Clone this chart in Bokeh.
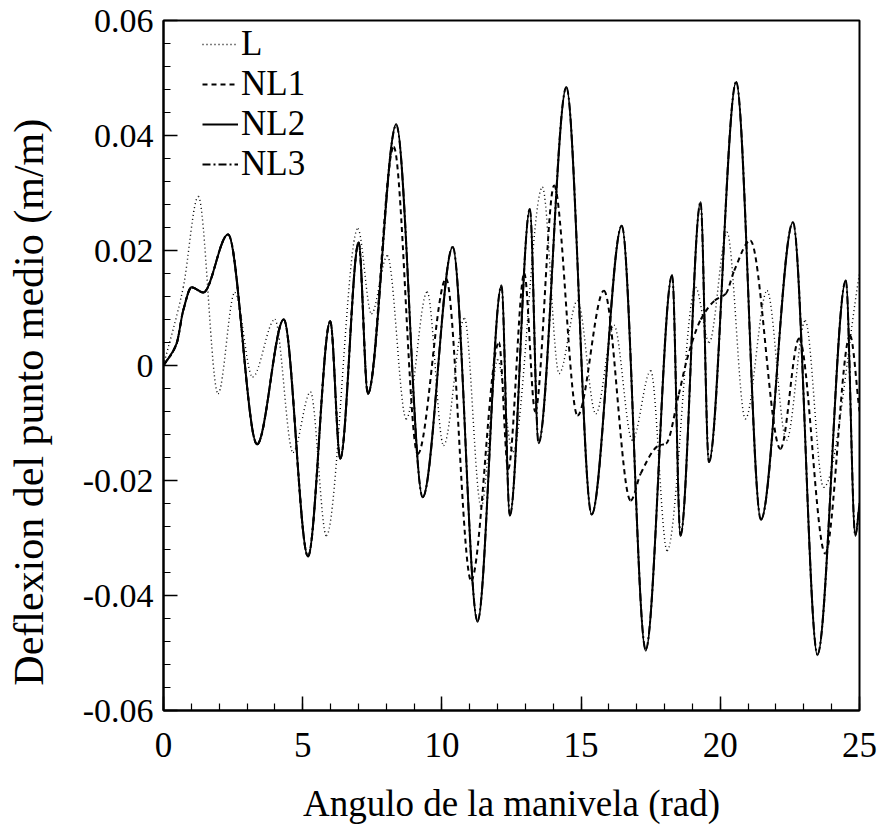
import numpy as np
from bokeh.plotting import figure
from bokeh.models import ColumnDataSource, Range1d, Legend, LegendItem, FixedTicker
from bokeh.embed import file_html
from bokeh.resources import INLINE

# ---- data (extrema and a few shape points) ----
x_ticks = [0, 5, 10, 15, 20, 25]
x_minor = list(range(0, 26))
y_ticks = [-0.06, -0.04, -0.02, 0.0, 0.02, 0.04, 0.06]
y_tick_labels = ["-0.06", "-0.04", "-0.02", "0", "0.02", "0.04", "0.06"]
y_minor = [round(-0.06 + 0.004 * i, 3) for i in range(31)]

x_title = "Angulo de la manivela (rad)"
y_title = "Deflexion del punto medio (m/m)"

L_x = [0, 0.71, 1.25, 1.96, 2.56, 3.2, 4.0, 4.65, 5.28, 5.85, 6.98, 7.47, 8.04, 8.72,
       9.47, 10.06, 10.81, 11.41, 12.0, 12.55, 13.61, 14.21, 14.87, 15.53, 16.18, 16.84,
       17.5, 18.09, 19.11, 19.6, 20.24, 20.9, 21.68, 22.38, 23.05, 23.71, 25.0]
L_y = [0, 0.0136, 0.0294, -0.0049, 0.0127, -0.002, 0.008, -0.0151, -0.0046, -0.0296,
       0.0238, 0.009, 0.0191, -0.0093, 0.0128, -0.0139, 0.0082, -0.0246, 0.001, -0.015,
       0.031, -0.0014, 0.0113, -0.0084, 0.007, -0.013, -0.0009, -0.0322, 0.0136, 0.004,
       0.0232, -0.0093, 0.013, -0.013, 0.0078, -0.0212, 0.016]

NL1_x = [0, 0.47, 0.71, 1.01, 1.43, 2.32, 3.36, 4.32, 5.19, 5.99, 6.35, 7.01, 7.34,
         8.27, 9.13, 10.15, 11.05, 12.05, 12.38, 12.96, 13.35, 14.03, 14.87, 15.82, 16.78,
         17.14, 17.8, 18.05, 18.51, 18.8, 19.3, 19.8, 20.2, 20.5, 21.08, 22.16, 22.83,
         23.77, 24.66, 25.0]
NL1_y = [0, 0.0038, 0.0096, 0.0136, 0.0127, 0.0228, -0.0137, 0.0080, -0.0332, 0.0077,
         -0.0162, 0.0214, -0.0049, 0.038, -0.0154, 0.0151, -0.0374, 0.004, -0.018, 0.016,
         -0.008, 0.0313, -0.0087, 0.0130, -0.0235, -0.0188, -0.0139, -0.0136, -0.005,
         0.001, 0.008, 0.0113, 0.0125, 0.0165, 0.0217, -0.0145, 0.0047, -0.0327, 0.0052,
         -0.008]

NL2_x = [0, 0.47, 0.71, 1.01, 1.43, 2.32, 3.36, 4.32, 5.19, 5.99, 6.35, 7.01, 7.34, 8.36,
         9.31, 10.39, 11.28, 12.14, 12.44, 13.16, 13.47, 14.47, 15.38, 16.46, 17.32, 18.27,
         18.57, 19.29, 19.59, 20.57, 21.46, 22.61, 23.49, 24.51, 24.85, 25.0]
NL2_y = [0, 0.0038, 0.0096, 0.0136, 0.0127, 0.0228, -0.0137, 0.0080, -0.0332, 0.0077,
         -0.0162, 0.0214, -0.0049, 0.0420, -0.0229, 0.0206, -0.0446, 0.0139, -0.0261,
         0.0272, -0.0135, 0.0484, -0.0259, 0.0243, -0.0496, 0.0157, -0.0296, 0.0284,
         -0.0168, 0.0493, -0.0268, 0.0249, -0.0504, 0.0148, -0.0296, -0.024]

NL3_x = [0, 0.47, 0.71, 1.01, 1.43, 2.32, 3.36, 4.32, 5.19, 5.99, 6.35, 7.01, 7.34, 8.36,
         9.31, 10.39, 11.28, 12.14, 12.44, 13.16, 13.47, 14.47, 15.38, 16.46, 17.32, 18.27,
         18.57, 19.29, 19.59, 20.57, 21.46, 22.61, 23.49, 24.51, 24.85, 25.0]
NL3_y = [0, 0.0038, 0.0096, 0.0136, 0.0127, 0.0228, -0.0137, 0.0080, -0.0332, 0.0077,
         -0.0162, 0.0214, -0.0049, 0.0418, -0.0229, 0.0206, -0.0444, 0.0139, -0.0261,
         0.0272, -0.0135, 0.0484, -0.0259, 0.0243, -0.0494, 0.0157, -0.0296, 0.0284,
         -0.0168, 0.0493, -0.0268, 0.0249, -0.0502, 0.0148, -0.0296, -0.024]


def smooth_segments(xs, ys):
    """Monotone cubic (Hermite) segments drawn as Bezier curves between read points."""
    xs = np.asarray(xs, float)
    ys = np.asarray(ys, float)
    n = len(xs)
    h = np.diff(xs)
    d = np.diff(ys) / h
    m = np.zeros(n)
    for i in range(1, n - 1):
        if d[i - 1] * d[i] > 0:
            w1 = 2 * h[i] + h[i - 1]
            w2 = h[i] + 2 * h[i - 1]
            m[i] = (w1 + w2) / (w1 / d[i - 1] + w2 / d[i])
    m[0] = d[0]
    m[-1] = d[-1]
    return ColumnDataSource(dict(
        x0=xs[:-1], y0=ys[:-1], x1=xs[1:], y1=ys[1:],
        cx0=xs[:-1] + h / 3, cy0=ys[:-1] + m[:-1] * h / 3,
        cx1=xs[1:] - h / 3, cy1=ys[1:] - m[1:] * h / 3,
    ))


FONT = "Liberation Serif"
W, H = 878, 833
BORDER_LEFT, BORDER_RIGHT, BORDER_TOP, BORDER_BOTTOM = 163, 19, 20, 123

p = figure(width=W, height=H, output_backend="svg", toolbar_location=None,
           x_range=Range1d(0, 25), y_range=Range1d(-0.06, 0.06),
           min_border_left=BORDER_LEFT, min_border_right=BORDER_RIGHT,
           min_border_top=BORDER_TOP, min_border_bottom=BORDER_BOTTOM)
p.xgrid.visible = False
p.ygrid.visible = False
p.outline_line_color = "black"
p.outline_line_width = 2
p.background_fill_color = "white"
p.border_fill_color = "white"

series = [
    ("L", L_x, L_y, dict(line_dash="1 3", line_width=1.4)),
    ("NL1", NL1_x, NL1_y, dict(line_dash="5 4", line_width=2.0)),
    ("NL3", NL3_x, NL3_y, dict(line_dash="8 3 2 3", line_width=2.0)),
    ("NL2", NL2_x, NL2_y, dict(line_width=1.9)),
]
rends = {}
for name, xs, ys, style in series:
    src = smooth_segments(xs, ys)
    r = p.bezier(x0="x0", y0="y0", x1="x1", y1="y1", cx0="cx0", cy0="cy0",
                 cx1="cx1", cy1="cy1", source=src, line_color="black", **style)
    rends[name] = r

legend = Legend(items=[LegendItem(label=n, renderers=[rends[n]]) for n in ["L", "NL1", "NL2", "NL3"]],
                location=(39, 526))
legend.background_fill_alpha = 0
legend.border_line_alpha = 0
legend.label_text_font = FONT
legend.label_text_font_size = "35px"
legend.label_text_color = "black"
legend.glyph_width = 36
legend.glyph_height = 38
legend.label_height = 38
legend.spacing = -2
legend.padding = 0
legend.margin = 0
legend.label_standoff = 3
p.add_layout(legend)

p.xaxis.ticker = FixedTicker(ticks=x_ticks, minor_ticks=x_minor)
p.yaxis.ticker = FixedTicker(ticks=y_ticks, minor_ticks=y_minor)
p.yaxis.major_label_overrides = {t: s for t, s in zip(y_ticks, y_tick_labels)}

for ax in (p.xaxis, p.yaxis):
    ax.axis_line_width = 2
    ax.axis_line_color = "black"
    ax.major_tick_in = 14
    ax.major_tick_out = 0
    ax.minor_tick_in = 7
    ax.minor_tick_out = 0
    ax.major_tick_line_width = 1.5
    ax.minor_tick_line_width = 1.2
    ax.major_label_text_font = FONT
    ax.major_label_text_color = "black"
    ax.axis_label_text_font = FONT
    ax.axis_label_text_font_style = "normal"
    ax.axis_label_text_color = "black"

p.xaxis.major_label_text_font_size = "35px"
p.yaxis.major_label_text_font_size = "34px"
p.xaxis.axis_label = x_title
p.xaxis.axis_label_text_font_size = "37px"
p.xaxis.major_label_standoff = 22
p.xaxis.axis_label_standoff = 23
p.yaxis.major_label_standoff = 10

# the reference's y title sits a little below the frame centre: trailing no-break
# spaces move the centred text down the axis
p.yaxis.axis_label = y_title + "\u00a0" * 7
p.yaxis.axis_label_text_font_size = "42px"
p.yaxis.axis_label_standoff = 28

open("out.html", "w").write(file_html(p, INLINE))
